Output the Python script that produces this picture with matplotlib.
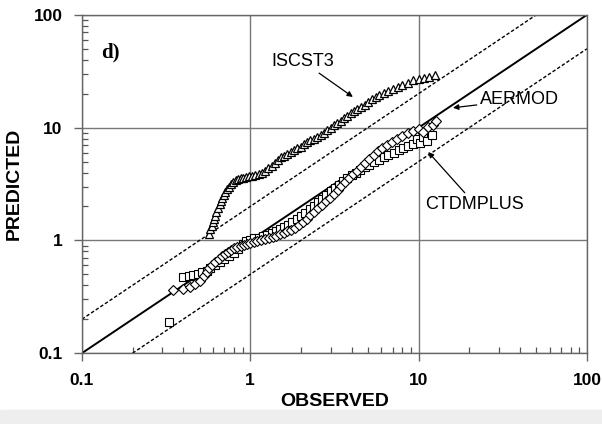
import numpy as np
import matplotlib.pyplot as plt
from matplotlib.patches import Rectangle
from matplotlib.ticker import LogLocator, NullFormatter

plt.rcParams['font.family'] = ['Liberation Sans', 'DejaVu Sans']

# Q-Q pairs (observed, predicted) for each model
iscst3_obs = [0.57, 0.58, 0.59, 0.60, 0.61, 0.62, 0.63, 0.64, 0.66, 0.67, 0.68, 0.70,
              0.71, 0.73, 0.75, 0.77, 0.79, 0.82, 0.85, 0.88, 0.91, 0.95, 0.99, 1.03,
              1.07, 1.12, 1.17, 1.22, 1.28, 1.34, 1.40, 1.46, 1.52, 1.59, 1.66, 1.74,
              1.82, 1.90, 1.99, 2.08, 2.18, 2.28, 2.39, 2.50, 2.62, 2.74, 2.87, 3.00,
              3.14, 3.29, 3.44, 3.60, 3.77, 3.95, 4.13, 4.33, 4.55, 4.78, 5.02, 5.27,
              5.55, 5.85, 6.20, 6.60, 7.00, 7.50, 8.00, 8.60, 9.30, 10.0, 10.8, 11.6,
              12.5]
iscst3_pred = [1.15, 1.25, 1.35, 1.45, 1.55, 1.65, 1.80, 1.95, 2.10, 2.25, 2.40, 2.55,
               2.70, 2.85, 3.00, 3.15, 3.30, 3.40, 3.50, 3.55, 3.60, 3.65, 3.70, 3.75,
               3.80, 3.90, 4.00, 4.15, 4.35, 4.60, 4.90, 5.20, 5.45, 5.65, 5.85, 6.05,
               6.30, 6.55, 6.80, 7.10, 7.40, 7.70, 8.00, 8.30, 8.65, 9.00, 9.45, 10.0,
               10.5, 11.0, 11.5, 12.1, 12.8, 13.5, 14.1, 14.7, 15.3, 16.0, 16.9, 17.8,
               18.7, 19.5, 20.4, 21.3, 22.2, 23.0, 23.8, 25.0, 26.3, 27.2, 27.6, 28.0,
               29.0]

aermod_obs = [0.35, 0.40, 0.44, 0.47, 0.50, 0.53, 0.55, 0.57, 0.59, 0.62, 0.65, 0.68,
              0.71, 0.74, 0.77, 0.80, 0.84, 0.88, 0.92, 0.96, 1.00, 1.05, 1.10, 1.16,
              1.22, 1.29, 1.36, 1.43, 1.50, 1.58, 1.66, 1.75, 1.85, 1.95, 2.05, 2.16,
              2.28, 2.40, 2.53, 2.67, 2.82, 2.97, 3.13, 3.30, 3.48, 3.67, 3.87, 4.08,
              4.30, 4.55, 4.80, 5.10, 5.40, 5.75, 6.10, 6.50, 6.95, 7.45, 8.00, 8.60,
              9.30, 10.0, 10.6, 11.3, 12.2, 12.7]
aermod_pred = [0.36, 0.37, 0.39, 0.41, 0.44, 0.48, 0.53, 0.57, 0.60, 0.64, 0.68, 0.72,
               0.76, 0.79, 0.82, 0.85, 0.87, 0.89, 0.91, 0.93, 0.95, 0.97, 0.99, 1.01,
               1.03, 1.05, 1.07, 1.10, 1.13, 1.16, 1.20, 1.24, 1.30, 1.37, 1.45, 1.55,
               1.67, 1.80, 1.94, 2.08, 2.22, 2.38, 2.58, 2.80, 3.02, 3.28, 3.55, 3.85,
               4.15, 4.50, 4.85, 5.25, 5.70, 6.20, 6.60, 7.00, 7.40, 7.85, 8.40, 8.90,
               9.40, 9.70, 9.20, 10.2, 10.6, 11.5]

ctdm_obs = [0.33, 0.40, 0.43, 0.46, 0.49, 0.52, 0.55, 0.58, 0.62, 0.66, 0.70, 0.75,
            0.80, 0.85, 0.90, 0.95, 1.00, 1.06, 1.12, 1.19, 1.26, 1.34, 1.42, 1.50,
            1.59, 1.68, 1.78, 1.89, 2.00, 2.12, 2.25, 2.38, 2.52, 2.67, 2.83, 3.00,
            3.18, 3.37, 3.57, 3.78, 4.00, 4.25, 4.50, 4.80, 5.10, 5.45, 5.80, 6.20,
            6.60, 7.10, 7.60, 8.10, 8.70, 9.30, 9.80, 10.2, 10.6, 11.2, 12.0]
ctdm_pred = [0.19, 0.47, 0.48, 0.49, 0.50, 0.52, 0.54, 0.57, 0.61, 0.64, 0.68, 0.72,
             0.77, 0.84, 0.92, 0.98, 1.01, 1.04, 1.06, 1.09, 1.12, 1.16, 1.21, 1.26,
             1.32, 1.38, 1.46, 1.55, 1.65, 1.76, 1.88, 2.02, 2.17, 2.34, 2.52, 2.72,
             2.92, 3.12, 3.33, 3.55, 3.78, 4.00, 4.22, 4.45, 4.70, 4.95, 5.20, 5.45,
             5.70, 6.00, 6.30, 6.55, 6.90, 7.20, 8.00, 7.30, 8.30, 7.60, 8.60]

ticks = [0.1, 1, 10, 100]
tick_labels = ['0.1', '1', '10', '100']

fig = plt.figure(figsize=(6.02, 4.24), dpi=100)
ax = fig.add_axes([0.136, 0.167, 0.839, 0.798])

# 1:1 line and factor-of-two bands
ax.plot([0.1, 100], [0.1, 100], color='black', lw=1.4, zorder=2)
ax.plot([0.1, 50], [0.2, 100], color='black', lw=1.0, dashes=(2.5, 1.5), zorder=2)
ax.plot([0.2, 100], [0.1, 50], color='black', lw=1.0, dashes=(2.5, 1.5), zorder=2)

mk = dict(ls='none', mfc='white', mec='black', mew=0.8, ms=5.5, zorder=3)
ax.plot(ctdm_obs, ctdm_pred, marker='s', **mk)
ax.plot(aermod_obs, aermod_pred, marker='D', **{**mk, 'ms': 5})
ax.plot(iscst3_obs, iscst3_pred, marker='^', **{**mk, 'mew': 0.9})

ax.set_xscale('log')
ax.set_yscale('log')
ax.set_xlim(0.1, 100)
ax.set_ylim(0.1, 100)
ax.set_xticks(ticks)
ax.set_xticklabels(tick_labels)
ax.set_yticks(ticks)
ax.set_yticklabels(tick_labels)
for axis in (ax.xaxis, ax.yaxis):
    axis.set_minor_locator(LogLocator(base=10, subs=np.arange(2, 10)))
    axis.set_minor_formatter(NullFormatter())

ax.grid(True, which='major', color='#777777', lw=1.0, zorder=0)
for s in ax.spines.values():
    s.set_color('#666666')
    s.set_linewidth(1.0)
ax.tick_params(which='major', direction='out', length=6, width=1.0, color='#666666',
               labelsize=12.5, pad=8)
ax.tick_params(which='minor', direction='in', length=4, width=0.9, color='#555555')
for lab in ax.get_xticklabels() + ax.get_yticklabels():
    lab.set_fontweight('bold')

ax.set_xlabel('OBSERVED', fontsize=14, fontweight='bold', labelpad=4)
ax.set_ylabel('PREDICTED', fontsize=14, fontweight='bold', labelpad=8)

ax.text(0.147, 46, 'd)', fontsize=15, fontweight='bold', family='Liberation Serif',
        ha='center', va='center')

arrow = dict(arrowstyle='-|>', color='black', lw=0.9, mutation_scale=8,
             shrinkA=0, shrinkB=0)
ax.annotate('ISCST3', xy=(4.07, 18.7), xytext=(2.06, 38.3), fontsize=13,
            ha='center', va='center', arrowprops=arrow)
ax.annotate('AERMOD', xy=(16.0, 15.0), xytext=(39.5, 17.6), fontsize=13,
            ha='center', va='center', arrowprops=arrow)
ax.annotate('CTDMPLUS', xy=(11.4, 6.08), xytext=(21.6, 2.10), fontsize=13,
            ha='center', va='center', arrowprops=arrow)

# light strip along the lower edge
fig.patches.append(Rectangle((0, 0), 1, 14 / 424, transform=fig.transFigure,
                             color='#eeeeee', zorder=-1))

fig.savefig('out.png', dpi=100)
